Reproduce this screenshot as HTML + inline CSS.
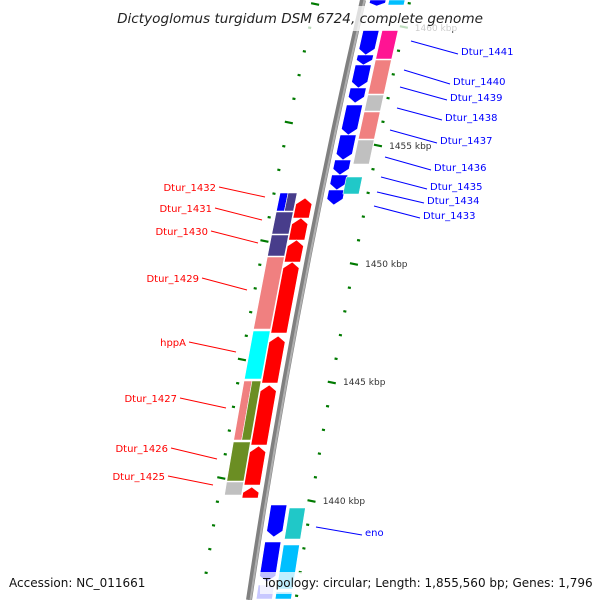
<!DOCTYPE html>
<html><head><meta charset="utf-8"><style>
html,body{margin:0;padding:0;background:#fff;}
svg{display:block;font-family:"DejaVu Sans","Liberation Sans",sans-serif;}
</style></head><body>
<svg id="map" width="600" height="600" viewBox="0 0 600 600" xmlns="http://www.w3.org/2000/svg">
<g id="ring"></g>
<path id="backbone" d="M363,0 Q294,300 249,600" fill="none" stroke="#808080" stroke-width="6"/>
<path d="M364.5,0 Q295.5,300 250.5,600" fill="none" stroke="#b0b0b0" stroke-width="2"/>
<g id="genes"></g>
<g id="labels"></g>
<rect x="112" y="6" width="378" height="25" fill="#fff" opacity="0.75"/>
<text x="300" y="23" text-anchor="middle" font-size="13.6" font-style="italic" fill="#222">Dictyoglomus turgidum DSM 6724, complete genome</text>
<text x="9" y="587" font-size="12" fill="#111">Accession: NC_011661</text>
<rect x="260" y="572" width="336" height="22" fill="#fff" opacity="0.75"/>
<text x="263" y="587" font-size="12" fill="#111">Topology: circular; Length: 1,855,560 bp; Genes: 1,796</text>
</svg>
<script>
// ---- data ----
const geneStart = [0, 30, 55, 65, 88, 105, 135, 160, 175, 190, 30, 60, 95, 112, 140, 177, 0,
  198, 218, 240, 262, 336, 385, 446, 487,
  193, 193, 212, 235, 257, 331, 381, 381, 442, 482,
  505, 542, 585, 508, 545, 592];
const geneEnd = [6, 55, 65, 88, 103, 135, 160, 175, 190, 205, 60, 95, 112, 140, 165, 195, 6,
  218, 240, 262, 333, 383, 445, 485, 498,
  212, 212, 235, 257, 330, 380, 441, 441, 482, 496,
  537, 582, 600, 540, 590, 600];
const geneTrack = ['b','b','b','b','b','b','b','b','b','b','p','p','p','p','p','q','p',
  'r','r','r','r','r','r','r','r',
  'cl','cr','c','c','c','c','cl','cr','c','c',
  'b','b','b','p','p','p'];
const geneColor = ['#0000ff','#0000ff','#0000ff','#0000ff','#0000ff','#0000ff','#0000ff','#0000ff','#0000ff','#0000ff',
  '#ff1493','#f08080','#c0c0c0','#f08080','#c0c0c0','#20c8c8','#00bfff',
  '#ff0000','#ff0000','#ff0000','#ff0000','#ff0000','#ff0000','#ff0000','#ff0000',
  '#0000ff','#483d8b','#483d8b','#483d8b','#f08080','#00ffff','#f08080','#6b8e23','#6b8e23','#c0c0c0',
  '#0000ff','#0000ff','#c8c8ff','#20c8c8','#00bfff','#00bfff'];
const geneDir = [1,1,1,1,1,1,1,1,1,1,0,0,0,0,0,0,0,
  -1,-1,-1,-1,-1,-1,-1,-1,
  0,0,0,0,0,0,0,0,0,0,
  1,1,0,0,0,0];
const rightLabels = ['Dtur_1441','Dtur_1440','Dtur_1439','Dtur_1438','Dtur_1437','Dtur_1436','Dtur_1435','Dtur_1434','Dtur_1433','eno'];
const rightLabelY = [55,85,101,121,144,171,190,204,219,536];
const rightLabelX = [461,453,450,445,440,434,430,427,423,365];
const rightLineFrom = [[411,41],[404,70],[400,87],[397,108],[390,130],[385,157],[381,177],[377,192],[374,206],[316,527]];
const leftLabels = ['Dtur_1432','Dtur_1431','Dtur_1430','Dtur_1429','hppA','Dtur_1427','Dtur_1426','Dtur_1425'];
const leftLabelY = [191,212,235,282,346,402,452,480];
const leftLabelX = [216,212,208,199,186,177,168,165];
const leftLineTo = [[265,197],[262,220],[258,243],[247,290],[236,352],[226,408],[217,459],[213,485]];
const kbpLabels = ['1460 kbp','1455 kbp','1450 kbp','1445 kbp','1440 kbp'];
const kbpY = [27,145,263,381,500];

// ---- geometry ----
const NS='http://www.w3.org/2000/svg';
function bx(y){const t=y/600;return (1-t)*(1-t)*363+2*t*(1-t)*294+t*t*249;}
const trackOff={b:[7,23],p:[26,42],q:[22,38],r:[-23,-7],c:[-41,-24],cl:[-41,-33],cr:[-33,-24]};
const genesG=document.getElementById('genes');
for(let i=0;i<geneStart.length;i++){
  const y1=geneStart[i],y2=geneEnd[i],[o1,o2]=trackOff[geneTrack[i]],d=geneDir[i];
  const tip=Math.min(6,(y2-y1)/2);
  const P=(y,o)=>(bx(y)+o).toFixed(1)+','+y;
  const om=(o1+o2)/2;
  let pts;
  if(d===1) pts=[P(y1,o1),P(y1,o2),P(y2-tip,o2),P(y2,om),P(y2-tip,o1)];
  else if(d===-1) pts=[P(y1+tip,o1),P(y1,om),P(y1+tip,o2),P(y2,o2),P(y2,o1)];
  else pts=[P(y1,o1),P(y1,o2),P(y2-1,o2),P(y2-1,o1)];
  const pg=document.createElementNS(NS,'polygon');
  pg.setAttribute('points',pts.join(' '));
  pg.setAttribute('fill',geneColor[i]);
  pg.setAttribute('stroke','#fff');
  pg.setAttribute('stroke-width','0.6');
  
  
  genesG.appendChild(pg);
}
// scale ring ticks
const ringG=document.getElementById('ring');
function tick(x,y,major){
  const l=document.createElementNS(NS,'line');
  const h=major?4:1.5;
  l.setAttribute('x1',x-h);l.setAttribute('y1',y-h*0.2);
  l.setAttribute('x2',x+h);l.setAttribute('y2',y+h*0.2);
  l.setAttribute('stroke','#007a00');l.setAttribute('stroke-width','2.2');
  
  
  ringG.appendChild(l);
}
for(let k=-1;k<25;k++){
  const y=27+23.7*k; if(y<0||y>600) continue;
  tick(bx(y)+47,y,k%5===0);
  const yl=4+23.7*k; if(yl>=0&&yl<=600) tick(bx(yl)-47,yl,k%5===0);
}
kbpLabels.forEach((s,i)=>{
  const t=document.createElementNS(NS,'text');
  t.setAttribute('x',(bx(kbpY[i])+58).toFixed(1));t.setAttribute('y',kbpY[i]+4);
  t.setAttribute('font-size','9');t.setAttribute('fill','#333');
  t.textContent=s;
  
  
  ringG.appendChild(t);
});
const labG=document.getElementById('labels');
function line(x1,y1,x2,y2,c,nm){
  const l=document.createElementNS(NS,'line');
  l.setAttribute('x1',x1);l.setAttribute('y1',y1);l.setAttribute('x2',x2);l.setAttribute('y2',y2);
  l.setAttribute('stroke',c);l.setAttribute('stroke-width','1');
  
  
  labG.appendChild(l);
}
function text(x,y,s,c,anchor,nm){
  const t=document.createElementNS(NS,'text');
  t.setAttribute('x',x);t.setAttribute('y',y);t.setAttribute('font-size','10');
  t.setAttribute('fill',c);t.setAttribute('text-anchor',anchor);t.textContent=s;
  
  
  labG.appendChild(t);
}
rightLabels.forEach((s,i)=>{
  line(rightLineFrom[i][0],rightLineFrom[i][1],rightLabelX[i]-3,rightLabelY[i]-1,'#0000ff','label-leader');
  text(rightLabelX[i],rightLabelY[i],s,'#0000ff','start','gene-label-'+s.toLowerCase());
});
leftLabels.forEach((s,i)=>{
  line(leftLabelX[i]+3,leftLabelY[i]-4,leftLineTo[i][0],leftLineTo[i][1],'#ff0000','label-leader');
  text(leftLabelX[i],leftLabelY[i],s,'#ff0000','end','gene-label-'+s.toLowerCase());
});
</script>
</body></html>
